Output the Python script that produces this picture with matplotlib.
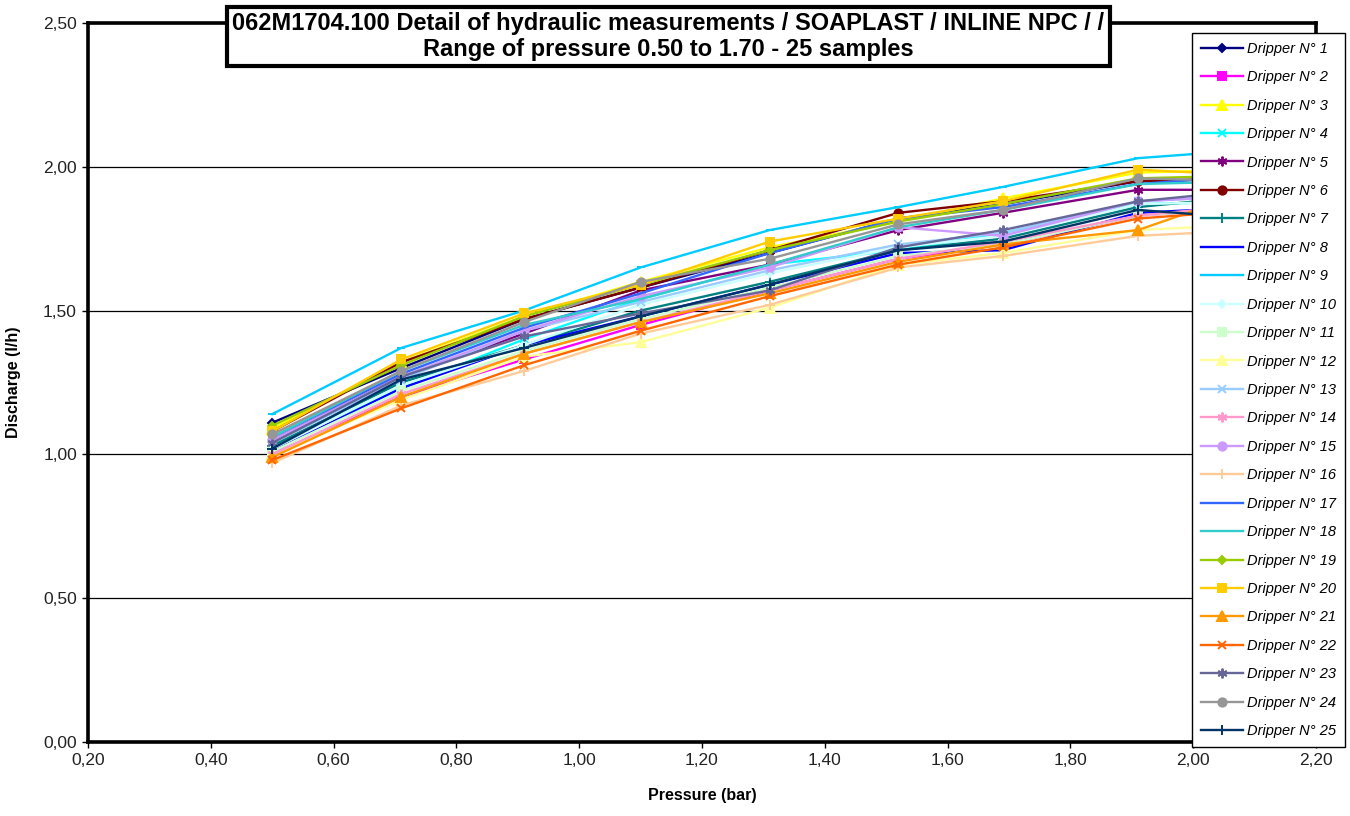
import matplotlib
matplotlib.use("Agg")
from matplotlib import pyplot as plt
from matplotlib.ticker import FuncFormatter, MultipleLocator

# pressure steps (bar)
pressure = [0.50, 0.71, 0.91, 1.10, 1.31, 1.52, 1.69, 1.91, 2.10]

# discharge (l/h) per dripper
d1 = [1.11, 1.30, 1.47, 1.58, 1.70, 1.82, 1.87, 1.95, 1.96]
d2 = [1.00, 1.20, 1.33, 1.45, 1.57, 1.68, 1.73, 1.83, 1.86]
d3 = [1.09, 1.32, 1.48, 1.60, 1.72, 1.81, 1.89, 1.98, 1.99]
d4 = [1.03, 1.23, 1.40, 1.54, 1.66, 1.71, 1.77, 1.87, 1.88]
d5 = [1.05, 1.27, 1.42, 1.57, 1.66, 1.78, 1.84, 1.92, 1.92]
d6 = [1.08, 1.32, 1.47, 1.58, 1.71, 1.84, 1.88, 1.95, 1.96]
d7 = [1.03, 1.25, 1.38, 1.50, 1.60, 1.71, 1.75, 1.86, 1.90]
d8 = [1.01, 1.23, 1.38, 1.48, 1.59, 1.70, 1.71, 1.84, 1.86]
d9 = [1.14, 1.37, 1.50, 1.65, 1.78, 1.86, 1.93, 2.03, 2.06]
d10 = [1.02, 1.24, 1.38, 1.52, 1.63, 1.72, 1.76, 1.87, 1.88]
d11 = [1.01, 1.22, 1.36, 1.47, 1.58, 1.69, 1.73, 1.83, 1.86]
d12 = [1.00, 1.19, 1.34, 1.39, 1.51, 1.66, 1.70, 1.78, 1.80]
d13 = [1.04, 1.26, 1.43, 1.53, 1.64, 1.73, 1.77, 1.88, 1.90]
d14 = [1.00, 1.21, 1.35, 1.46, 1.57, 1.68, 1.74, 1.83, 1.87]
d15 = [1.05, 1.27, 1.43, 1.55, 1.65, 1.79, 1.76, 1.88, 1.90]
d16 = [0.97, 1.17, 1.29, 1.42, 1.52, 1.65, 1.69, 1.76, 1.78]
d17 = [1.06, 1.28, 1.44, 1.56, 1.70, 1.82, 1.86, 1.94, 1.97]
d18 = [1.06, 1.29, 1.45, 1.54, 1.66, 1.79, 1.85, 1.94, 1.95]
d19 = [1.10, 1.31, 1.48, 1.59, 1.71, 1.81, 1.87, 1.96, 1.97]
d20 = [1.08, 1.33, 1.49, 1.59, 1.74, 1.82, 1.88, 1.99, 1.97]
d21 = [0.99, 1.20, 1.35, 1.46, 1.56, 1.67, 1.73, 1.78, 1.92]
d22 = [0.98, 1.16, 1.31, 1.43, 1.55, 1.66, 1.72, 1.82, 1.85]
d23 = [1.04, 1.27, 1.41, 1.49, 1.57, 1.72, 1.78, 1.88, 1.92]
d24 = [1.07, 1.29, 1.46, 1.60, 1.68, 1.80, 1.85, 1.96, 1.95]
d25 = [1.02, 1.26, 1.37, 1.48, 1.59, 1.71, 1.74, 1.85, 1.82]

series = [d1, d2, d3, d4, d5, d6, d7, d8, d9, d10, d11, d12, d13,
          d14, d15, d16, d17, d18, d19, d20, d21, d22, d23, d24, d25]
labels = ['Dripper N° %d' % (i + 1) for i in range(25)]

colors = ['#000080', '#FF00FF', '#FFFF00', '#00FFFF', '#800080', '#800000',
          '#008080', '#0000FF', '#00CCFF', '#CCFFFF', '#CCFFCC', '#FFFF99',
          '#99CCFF', '#FF99CC', '#CC99FF', '#FFCC99', '#3366FF', '#33CCCC',
          '#99CC00', '#FFCC00', '#FF9900', '#FF6600', '#666699', '#969696',
          '#003366']
star = (6, 2, 0)
markers = ['D', 's', '^', 'x', star, 'o', '+', '_', '_', 'D', 's', '^',
           'x', star, 'o', '+', 'None', 'None', 'D', 's', '^', 'x', star,
           'o', '+']
msizes = [4, 6, 7, 6, 7, 6, 7, 6, 6, 4, 6, 7, 6, 7, 6, 7, 0, 0,
          4, 6, 7, 6, 7, 6, 7]

plt.rcParams['font.family'] = ['Liberation Sans', 'DejaVu Sans']

fig = plt.figure(figsize=(13.5, 8.16), dpi=100)
ax = fig.add_axes([88 / 1350, 74 / 816, (1316 - 88) / 1350, (793 - 74) / 816])

for ys, c, m, ms, lab in zip(series, colors, markers, msizes, labels):
    ax.plot(pressure, ys, color=c, marker=m, markersize=ms, linewidth=1.7,
            markeredgewidth=1.4, label=lab, zorder=3)

ax.set_xlim(0.2, 2.2)
ax.set_ylim(0, 2.5)
ax.xaxis.set_major_locator(MultipleLocator(0.2))
ax.yaxis.set_major_locator(MultipleLocator(0.5))
comma = FuncFormatter(lambda v, p: ('%.2f' % v).replace('.', ','))
ax.xaxis.set_major_formatter(comma)
ax.yaxis.set_major_formatter(comma)
ax.grid(axis='y', color='black', linewidth=0.9, zorder=1)
ax.set_axisbelow(True)
for s in ax.spines.values():
    s.set_linewidth(2.6)
    s.set_color('black')
ax.tick_params(axis='both', direction='out', length=4, width=1,
               labelsize=12.5, labelcolor='#222222', pad=4)

ax.set_xlabel('Pressure (bar)', fontsize=11.5, fontweight='bold', labelpad=14)
ax.set_ylabel('Discharge (l/h)', fontsize=11.5, fontweight='bold', labelpad=16)

leg = fig.legend(loc='upper left', bbox_to_anchor=(1192 / 1350, 1 - 33 / 816),
                 frameon=True, fancybox=False, edgecolor='black',
                 framealpha=1, handlelength=2.9, labelspacing=0.99,
                 borderpad=0.6, handletextpad=0.3, borderaxespad=0,
                 prop={'style': 'italic', 'size': 10.5})
leg.get_frame().set_linewidth(1.0)
leg.set_zorder(10)

fig.text(0.495, 1 - 36.5 / 816,
         '062M1704.100 Detail of hydraulic measurements / SOAPLAST / INLINE NPC / /\n'
         'Range of pressure 0.50 to 1.70 - 25 samples',
         ha='center', va='center', fontsize=17, fontweight='bold',
         family=['Liberation Sans Narrow', 'Liberation Sans', 'DejaVu Sans'],
         linespacing=1.15,
         bbox=dict(boxstyle='square,pad=0.22', facecolor='white',
                   edgecolor='black', linewidth=3), zorder=11)

fig.savefig('out.png', dpi=100)
